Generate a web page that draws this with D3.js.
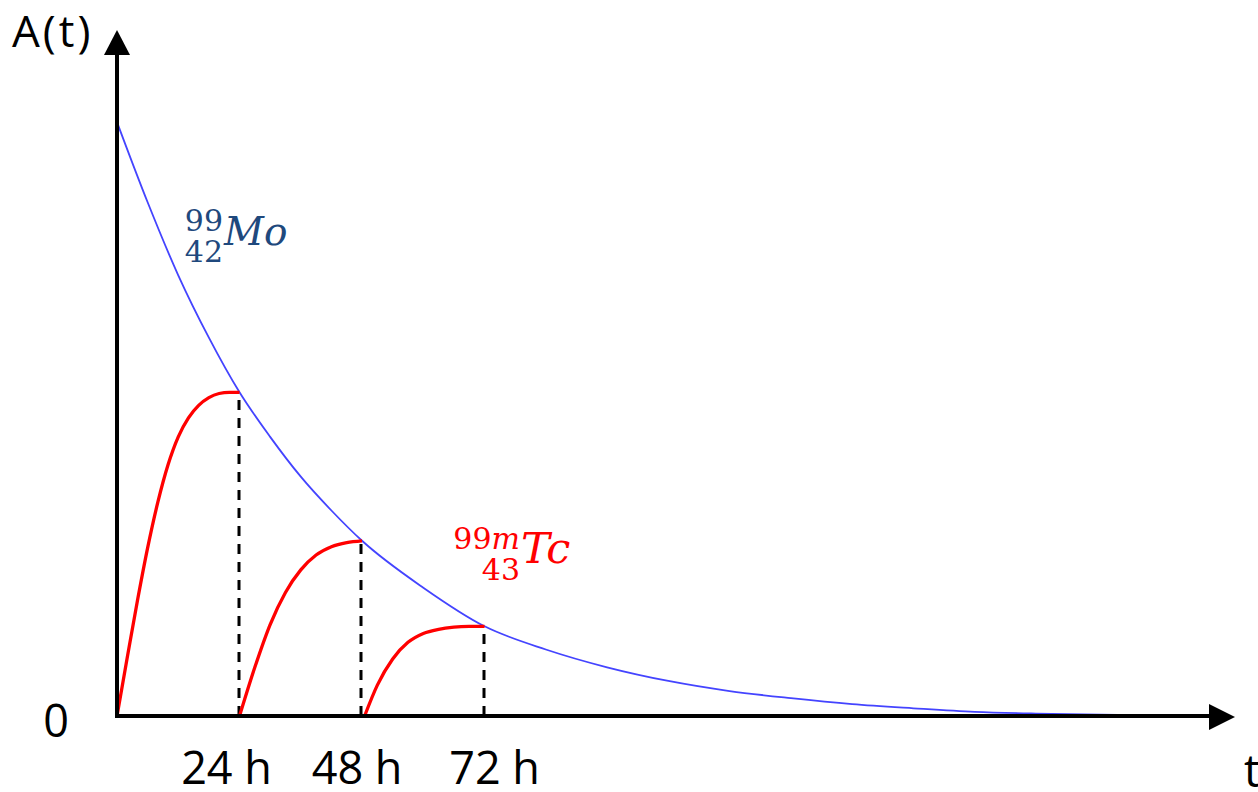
<!DOCTYPE html>
<html>
<head>
<meta charset="utf-8">
<script src="https://cdnjs.cloudflare.com/ajax/libs/d3/7.8.5/d3.min.js"></script>
<style>
    body{margin:0;background:#fff;}
    .canvas{width:1258px;height:792px;}
</style>
</head>
<body>
<div class="canvas" id="canvas"></div>
<script>
// Mo-99 parent activity (blue), arbitrary units
var moTimes  = [0, 6, 12, 18, 24, 30, 36, 42, 48, 60, 72, 84, 96, 108, 120, 132, 144, 156, 168, 180, 196];
var moValues = [100, 86.5, 74.2, 63.7, 54.5, 47, 40.3, 34.6, 29.5, 21.6, 15.1, 11.2, 8.2, 5.9, 4.2, 3.0, 2.0, 1.3, 0.7, 0.4, 0.2];

// Tc-99m growth after each elution (red)
var tc1Times  = [0, 2, 4, 6, 8, 10, 12, 14, 16, 18, 20, 22, 24];
var tc1Values = [0, 9.8, 19.4, 28.3, 36, 42.3, 47, 50.2, 52.3, 53.6, 54.3, 54.5, 54.5];
var tc2Times  = [24, 27, 30, 33, 36, 39, 42, 45, 48];
var tc2Values = [0, 8.2, 15.4, 20.8, 24.6, 27.1, 28.5, 29.2, 29.5];
var tc3Times  = [48.5, 51, 54, 57, 60, 63, 66, 69, 72];
var tc3Values = [0, 5.2, 9.6, 12.4, 13.9, 14.6, 14.95, 15.08, 15.1];

var elutions = [24, 48, 72];
var tickLabels = ['24 h', '48 h', '72 h'];

var W = 1258, H = 792;

var svg = d3.select('.canvas')
    .append('svg')
    .attr('width', W)
    .attr('height', H);

// axis extents: t from 0 to ~219 h, A from 0 to ~115
var x = d3.scaleLinear().domain([0, 219]).range([117, 1235]);
var y = d3.scaleLinear().domain([0, 115.5]).range([716, 30]);

function zip(ts, vs){
    return ts.map(function(t, i){ return {t:t, v:vs[i]}; });
}

var line = d3.line()
    .x(function(d){return x(d.t)})
    .y(function(d){return y(d.v)})
    .curve(d3.curveMonotoneX);

// dashed drops at elution times
var tcEnds = [tc1Values[tc1Values.length-1], tc2Values[tc2Values.length-1], tc3Values[tc3Values.length-1]];
svg.selectAll('.drop')
    .data(elutions)
    .enter()
    .append('line').attr('class','drop')
    .attr('x1', function(d){return Math.round(x(d)) - 1})
    .attr('x2', function(d){return Math.round(x(d)) - 1})
    .attr('y1', y(0))
    .attr('y2', function(d,i){return y(tcEnds[i]) + 2})
    .style('stroke','black')
    .style('stroke-width','3px')
    .style('stroke-dasharray','10,8');

// blue decay curve
svg.append('path')
    .datum(zip(moTimes, moValues))
    .attr('d', line)
    .style('fill','none')
    .style('stroke','#4444ff')
    .style('stroke-width','1.8px');

// red growth curves
svg.selectAll('.tc')
    .data([zip(tc1Times, tc1Values), zip(tc2Times, tc2Values), zip(tc3Times, tc3Values)])
    .enter()
    .append('path').attr('class','tc')
    .attr('d', line)
    .style('fill','none')
    .style('stroke','#ff0000')
    .style('stroke-width','3.3px');

// axes with arrow heads
var x0 = x(0), y0 = y(0), xEnd = x.range()[1], yEnd = y.range()[1];
svg.append('line')
    .attr('x1', x0).attr('y1', y0 + 2)
    .attr('x2', x0).attr('y2', yEnd + 20)
    .style('stroke','black').style('stroke-width','4px');
svg.append('line')
    .attr('x1', x0 - 2).attr('y1', y0)
    .attr('x2', xEnd - 20).attr('y2', y0)
    .style('stroke','black').style('stroke-width','4px');
svg.append('path')
    .attr('d', 'M'+x0+','+yEnd+'L'+(x0-13)+','+(yEnd+25)+'L'+(x0+13)+','+(yEnd+25)+'Z')
    .style('fill','black');
svg.append('path')
    .attr('d', 'M'+xEnd+','+(y0+1)+'L'+(xEnd-26)+','+(y0-12)+'L'+(xEnd-26)+','+(y0+14)+'Z')
    .style('fill','black');

// text
var sans = "'Open Sans', 'Noto Sans', sans-serif";
svg.append('text')
    .attr('x', 12).attr('y', 47)
    .style('font-family', sans).style('font-size','44px')
    .style('letter-spacing','3px')
    .text('A(t)');
svg.append('text')
    .attr('x', 56).attr('y', 737)
    .attr('text-anchor','middle')
    .style('font-family', sans).style('font-size','45px')
    .text('0');
svg.append('text')
    .attr('x', 1244).attr('y', 787)
    .style('font-family', sans).style('font-size','45px')
    .text('t');

var labelShift = [-13, -5, 10];
svg.selectAll('.tick-label')
    .data(tickLabels)
    .enter()
    .append('text').attr('class','tick-label')
    .attr('x', function(d,i){return x(elutions[i]) + labelShift[i]})
    .attr('y', 784)
    .attr('text-anchor','middle')
    .style('font-family', sans).style('font-size','45px')
    .text(function(d){return d});

// nuclide labels with prescripts
var serif = "'DejaVu Serif', serif";
function nuclide(xPos, yBase, sup, sub, sym, color, symSize){
    var g = svg.append('g').style('fill', color).style('font-family', serif);
    g.append('text').attr('x', xPos).attr('y', yBase - 14)
        .attr('text-anchor','end').style('font-size','30px')
        .html(sup);
    g.append('text').attr('x', xPos).attr('y', yBase + 17)
        .attr('text-anchor','end').style('font-size','30px')
        .text(sub);
    g.append('text').attr('x', xPos + 1).attr('y', yBase)
        .style('font-size', symSize).style('font-style','italic')
        .text(sym);
}
nuclide(223, 245, '99', '42', 'Mo', '#1f497d', '39px');
nuclide(520, 563, '99<tspan font-style="italic">m</tspan>', '43', 'Tc', '#ff0000', '43px');
</script>
</body>
</html>
